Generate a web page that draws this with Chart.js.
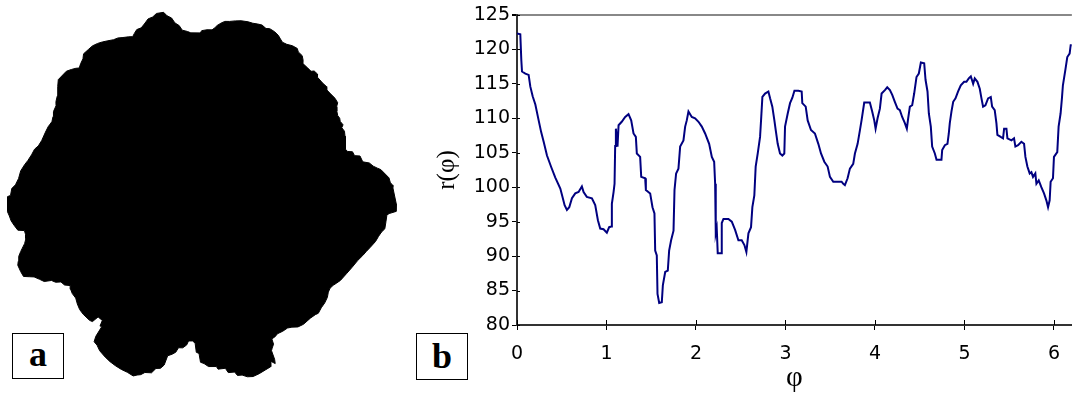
<!DOCTYPE html>
<html>
<head>
<meta charset="utf-8">
<script src="https://cdn.jsdelivr.net/npm/chart.js@4.4.1/dist/chart.umd.min.js"></script>
<style>
  html, body { margin: 0; padding: 0; background: #fff; }
  #wrap { position: relative; width: 1073px; height: 396px; overflow: hidden; }
  canvas { position: absolute; top: 0; }
  #shape { left: 0; }
  #profile { left: 410px; }
  .tag {
    position: absolute; box-sizing: border-box; border: 1px solid #000; background: #fff;
    font: bold 36px "Liberation Serif", "Times New Roman", serif; color: #000;
    display: flex; align-items: center; justify-content: center; line-height: 1;
  }
</style>
</head>
<body>
<div id="wrap">
  <canvas id="shape" width="410" height="396"></canvas>
  <canvas id="profile" width="663" height="396"></canvas>
  <div class="tag" style="left:12px;top:333px;width:52px;height:46px;padding-bottom:4px">a</div>
  <div class="tag" style="left:416px;top:333px;width:52px;height:47px;padding-bottom:2px">b</div>
</div>
<script>
// contour radius r as a function of angle phi
const phi = [
  0.000, 0.037, 0.048, 0.056, 0.093, 0.130, 0.149, 0.175, 0.205, 0.242,
  0.270, 0.298, 0.335, 0.383, 0.428, 0.484, 0.510, 0.532, 0.558, 0.584,
  0.614, 0.651, 0.688, 0.725, 0.744, 0.780, 0.837, 0.874, 0.904, 0.930,
  0.967, 1.004, 1.030, 1.053, 1.060, 1.079, 1.090, 1.097, 1.105, 1.123,
  1.135, 1.170, 1.209, 1.246, 1.276, 1.302, 1.328, 1.339, 1.376, 1.388,
  1.432, 1.440, 1.488, 1.514, 1.536, 1.544, 1.562, 1.570, 1.589, 1.618,
  1.630, 1.656, 1.685, 1.700, 1.722, 1.749, 1.760, 1.778, 1.804, 1.823,
  1.860, 1.879, 1.897, 1.916, 1.953, 1.990, 2.028, 2.065, 2.102, 2.147,
  2.177, 2.203, 2.214, 2.221, 2.232, 2.243, 2.280, 2.288, 2.307, 2.362,
  2.400, 2.437, 2.474, 2.511, 2.541, 2.563, 2.586, 2.615, 2.630, 2.652,
  2.667, 2.690, 2.716, 2.727, 2.742, 2.772, 2.809, 2.828, 2.853, 2.876,
  2.891, 2.913, 2.939, 2.965, 2.987, 2.995, 3.025, 3.051, 3.077, 3.100,
  3.144, 3.181, 3.188, 3.226, 3.248, 3.285, 3.329, 3.367, 3.397, 3.434,
  3.471, 3.497, 3.534, 3.590, 3.627, 3.646, 3.664, 3.694, 3.720, 3.757,
  3.776, 3.806, 3.832, 3.850, 3.880, 3.943, 3.969, 3.992, 4.007, 4.029,
  4.055, 4.074, 4.111, 4.137, 4.167, 4.193, 4.222, 4.252, 4.278, 4.304,
  4.334, 4.356, 4.371, 4.390, 4.416, 4.438, 4.464, 4.490, 4.513, 4.550,
  4.565, 4.587, 4.602, 4.624, 4.639, 4.669, 4.688, 4.743, 4.751, 4.781,
  4.810, 4.825, 4.836, 4.855, 4.874, 4.900, 4.929, 4.959, 4.996, 5.022,
  5.048, 5.071, 5.097, 5.115, 5.145, 5.171, 5.190, 5.208, 5.234, 5.264,
  5.294, 5.309, 5.338, 5.357, 5.368, 5.405, 5.431, 5.443, 5.469, 5.480,
  5.525, 5.554, 5.569, 5.599, 5.636, 5.666, 5.681, 5.703, 5.729, 5.748,
  5.766, 5.792, 5.804, 5.830, 5.859, 5.889, 5.915, 5.934, 5.952, 5.963,
  5.989, 6.000, 6.037, 6.052, 6.074, 6.089, 6.100, 6.127, 6.149, 6.175,
  6.187, 6.200
];
const radius = [
  122.3, 122.2, 118.5, 116.8, 116.5, 116.3, 114.6, 113.2, 112.0, 109.7,
  108.0, 106.6, 104.6, 102.9, 101.4, 99.8, 98.5, 97.4, 96.7, 97.1,
  98.4, 99.1, 99.3, 100.1, 99.3, 98.6, 98.4, 97.4, 95.2, 94.0,
  93.9, 93.4, 94.2, 94.3, 97.6, 99.3, 100.5, 106.0, 108.5, 105.9,
  109.0, 109.5, 110.2, 110.6, 109.7, 107.8, 107.3, 104.9, 104.4, 101.5,
  101.3, 99.6, 99.1, 97.1, 96.2, 90.8, 90.1, 84.5, 83.2, 83.3,
  85.8, 87.7, 87.9, 90.8, 92.3, 93.7, 99.6, 102.0, 102.7, 105.9,
  106.8, 108.8, 109.7, 111.0, 110.2, 110.0, 109.5, 108.8, 107.8, 106.3,
  104.4, 103.7, 100.5, 93.3, 94.0, 90.4, 90.4, 94.8, 95.4, 95.4,
  95.0, 93.8, 92.3, 92.3, 91.6, 90.6, 93.3, 94.2, 97.1, 98.8,
  103.0, 104.9, 107.3, 109.7, 113.1, 113.6, 113.9, 112.9, 111.7, 109.7,
  108.3, 106.3, 104.9, 104.6, 104.9, 108.8, 110.7, 112.2, 113.0, 114.0,
  114.0, 113.9, 112.2, 111.7, 109.7, 108.3, 107.8, 106.3, 104.9, 103.7,
  103.0, 101.5, 100.8, 100.8, 100.8, 100.5, 100.3, 101.3, 102.7, 103.4,
  104.9, 106.3, 108.3, 109.7, 112.3, 112.3, 111.0, 109.7, 108.5, 110.0,
  111.4, 113.6, 114.1, 114.5, 114.1, 113.4, 112.4, 111.4, 111.2, 110.2,
  109.3, 108.5, 110.0, 111.7, 111.9, 113.6, 116.0, 116.5, 118.1, 118.0,
  115.6, 113.9, 110.7, 108.8, 105.9, 104.9, 104.0, 104.0, 105.4, 106.1,
  106.3, 107.8, 109.3, 111.0, 112.4, 112.9, 113.9, 114.8, 115.3, 115.3,
  115.8, 116.1, 115.0, 115.8, 115.3, 114.3, 112.9, 111.7, 111.9, 112.9,
  113.1, 111.7, 111.2, 109.3, 107.6, 107.3, 107.1, 108.5, 108.5, 107.1,
  106.8, 107.1, 105.9, 106.1, 106.6, 106.3, 104.4, 103.0, 102.0, 102.2,
  101.5, 102.0, 100.5, 101.0, 100.0, 99.1, 98.1, 97.1, 98.1, 100.8,
  101.3, 104.4, 105.1, 108.8, 110.7, 112.9, 114.8, 117.0, 118.9, 119.4,
  120.6, 120.6
];
const xTickValues = [0, 1, 2, 3, 4, 5, 6];
const yTickValues = [80, 85, 90, 95, 100, 105, 110, 115, 120, 125];

// panel a: the same contour drawn as a closed filled outline (angle runs clockwise on screen)
const outline = phi.map(function (p, i) {
  return { x: radius[i] * Math.cos(p), y: -radius[i] * Math.sin(p) };
});
outline.push(outline[0]);

const pxPerUnit = 1.646, centreX = 195, centreY = 204;
new Chart(document.getElementById('shape'), {
  type: 'scatter',
  data: {
    datasets: [{
      data: outline,
      showLine: true,
      fill: 'shape',
      backgroundColor: '#000',
      borderColor: '#000',
      borderWidth: 1,
      pointRadius: 0,
      tension: 0
    }]
  },
  options: {
    responsive: false,
    animation: false,
    events: [],
    layout: { padding: 0 },
    plugins: { legend: { display: false }, tooltip: { enabled: false } },
    scales: {
      x: { type: 'linear', display: false, min: -centreX / pxPerUnit, max: (410 - centreX) / pxPerUnit },
      y: { type: 'linear', display: false, min: -(396 - centreY) / pxPerUnit, max: centreY / pxPerUnit }
    }
  }
});

// short inner halves of the tick marks (Excel style ticks cross the axis)
const crossTicks = {
  id: 'crossTicks',
  afterDraw: function (chart) {
    const ctx = chart.ctx, area = chart.chartArea;
    const xs = chart.scales.x, ys = chart.scales.y;
    ctx.save();
    ctx.strokeStyle = '#000';
    ctx.lineWidth = 1;
    ctx.beginPath();
    xTickValues.forEach(function (v) {
      const px = Math.round(xs.getPixelForValue(v)) + 0.5;
      ctx.moveTo(px, area.bottom);
      ctx.lineTo(px, area.bottom - 5);
    });
    yTickValues.forEach(function (v) {
      const py = Math.round(ys.getPixelForValue(v)) + 0.5;
      ctx.moveTo(area.left, py);
      ctx.lineTo(area.left + 3, py);
    });
    ctx.stroke();
    ctx.restore();
  }
};

const tickFont = { family: '"DejaVu Sans", Arial, sans-serif', size: 19 };

new Chart(document.getElementById('profile'), {
  type: 'line',
  data: {
    datasets: [{
      data: phi.map(function (p, i) { return { x: p, y: radius[i] }; }),
      borderColor: '#000080',
      borderWidth: 2,
      pointRadius: 0,
      tension: 0,
      fill: false
    }]
  },
  options: {
    responsive: false,
    animation: false,
    events: [],
    layout: { padding: { top: 15, right: 0, bottom: 0, left: 0 } },
    plugins: { legend: { display: false }, tooltip: { enabled: false } },
    scales: {
      x: {
        type: 'linear',
        min: 0,
        max: 6.2,
        afterBuildTicks: function (scale) {
          scale.ticks = xTickValues.map(function (v) { return { value: v }; });
        },
        afterFit: function (scale) { scale.height = 71; },
        ticks: {
          font: tickFont,
          color: '#000',
          padding: 13,
          maxRotation: 0,
          autoSkip: false
        },
        grid: { drawOnChartArea: false, tickLength: 5, color: '#000', lineWidth: 1 },
        border: { color: '#333', width: 2 },
        title: {
          display: true,
          text: 'φ',
          font: { family: '"Liberation Serif", "Times New Roman", serif', size: 29 },
          color: '#000',
          padding: { top: 0, bottom: 0 }
        }
      },
      y: {
        type: 'linear',
        min: 80,
        max: 125,
        afterBuildTicks: function (scale) {
          scale.ticks = yTickValues.map(function (v) { return { value: v }; });
        },
        afterFit: function (scale) { scale.width = 107; },
        ticks: {
          font: tickFont,
          color: '#000',
          padding: 2
        },
        grid: {
          tickLength: 5,
          tickColor: '#000',
          color: function (c) { return c.tick && c.tick.value === 125 ? '#888' : 'rgba(0,0,0,0)'; },
          lineWidth: function (c) { return c.tick && c.tick.value === 125 ? 2 : 1; }
        },
        border: { color: '#333', width: 2 },
        title: {
          display: true,
          text: 'r(φ)',
          font: { family: '"Liberation Serif", "Times New Roman", serif', size: 25 },
          color: '#000',
          padding: { top: 22, bottom: 0 }
        }
      }
    }
  },
  plugins: [crossTicks]
});
</script>
</body>
</html>
